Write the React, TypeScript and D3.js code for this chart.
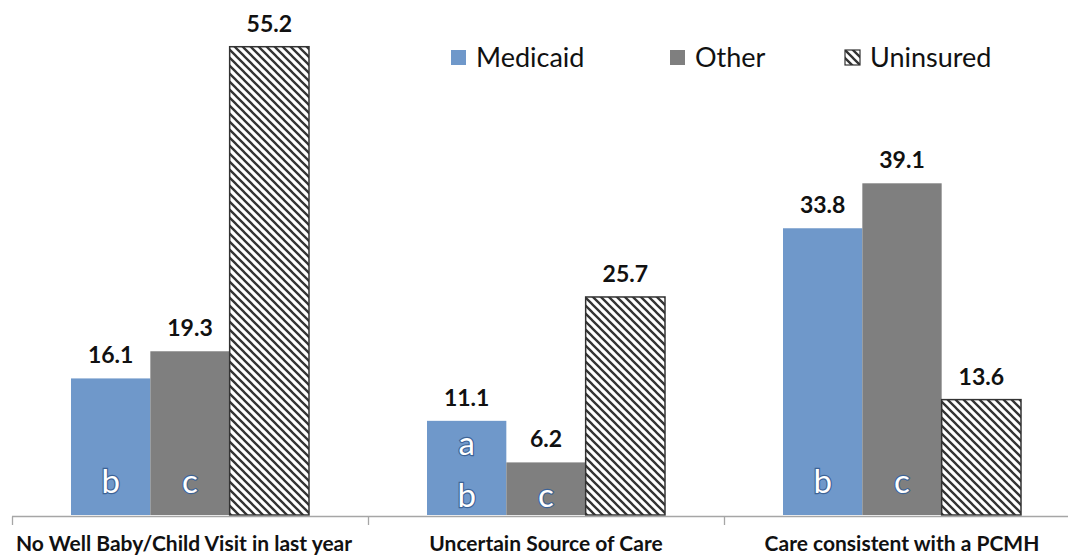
import React, { useEffect } from 'react'
import * as d3 from 'd3'

// chart data
const categories = [
  'No Well Baby/Child Visit in last year',
  'Uncertain Source of Care',
  'Care consistent with a PCMH',
]
const seriesNames = ['Medicaid', 'Other', 'Uninsured']
const medicaid = [16.1, 11.1, 33.8]
const other = [19.3, 6.2, 39.1]
const uninsured = [55.2, 25.7, 13.6]
// significance letters written inside the bars (top to bottom)
const medicaidNotes = [['b'], ['a', 'b'], ['b']]
const otherNotes = [['c'], ['c'], ['c']]
const uninsuredNotes = [[], [], []]

const W = 1068
const H = 557
const colors = { Medicaid: '#6f98ca', Other: '#7f7f7f', Uninsured: 'url(#hatch)' }

const App = () => {
  useEffect(() => {
    document.body.style.margin = '0'
  }, [])

  const values = [medicaid, other, uninsured]
  const notes = [medicaidNotes, otherNotes, uninsuredNotes]

  const x0 = d3.scaleBand().domain(categories).range([12, 1080])
  const groupWidth = 238
  const x1 = d3
    .scaleBand()
    .domain(seriesNames)
    .range([(x0.step() - groupWidth) / 2, (x0.step() + groupWidth) / 2])
  const y = d3.scaleLinear().domain([0, 60]).range([515, 6])
  const base = y(0)
  const noteLift = [22, 8, 22] // how far the letters sit above the axis, per group

  const font = 'Lato, "Open Sans", sans-serif'

  return (
    <svg width={W} height={H} style={{ display: 'block', background: '#fff' }}>
      <defs>
        <pattern id="hatch" width={8} height={8} patternUnits="userSpaceOnUse">
          <rect width={8} height={8} fill="#fff" />
          <path d="M-2,-2 L10,10 M-2,6 L2,10 M6,-2 L10,2" stroke="#333" strokeWidth={2.3} />
        </pattern>
      </defs>

      {/* bars */}
      {categories.map((cat, ci) => (
        <g key={cat} transform={`translate(${x0(cat)},0)`}>
          {seriesNames.map((s, si) => {
            const v = values[si][ci]
            const bx = x1(s)!
            const bw = x1.bandwidth()
            const hatched = s === 'Uninsured'
            return (
              <g key={s}>
                <rect
                  x={bx}
                  y={y(v)}
                  width={bw}
                  height={base - y(v)}
                  fill={colors[s as keyof typeof colors]}
                  stroke={hatched ? '#333' : 'none'}
                  strokeWidth={hatched ? 1.5 : 0}
                />
                <text
                  x={bx + bw / 2}
                  y={y(v) - 15}
                  textAnchor="middle"
                  fontFamily={font}
                  fontWeight="bold"
                  fontSize={23}
                  fill="#111"
                >
                  {v.toFixed(1)}
                </text>
                {notes[si][ci].map((t, li, arr) => (
                  <text
                    key={li}
                    x={bx + bw / 2}
                    y={base - noteLift[ci] - (arr.length - 1 - li) * 52}
                    textAnchor="middle"
                    fontFamily={font}
                    fontSize={33}
                    fill="#fff"
                    stroke="#3d6396"
                    strokeWidth={2.4}
                    paintOrder="stroke"
                  >
                    {t}
                  </text>
                ))}
              </g>
            )
          })}
        </g>
      ))}

      {/* category axis */}
      <line x1={12} x2={W} y1={516.5} y2={516.5} stroke="#a6a6a6" strokeWidth={1.3} />
      {categories.map((cat) => (
        <line
          key={cat}
          x1={x0(cat)! + 0.5}
          x2={x0(cat)! + 0.5}
          y1={516.5}
          y2={525}
          stroke="#a6a6a6"
          strokeWidth={1.3}
        />
      ))}
      {categories.map((cat, i) => (
        <text
          key={cat}
          x={x0(cat)! + x0.bandwidth() / 2 - (i === 0 ? 6 : 0)}
          y={551}
          textAnchor="middle"
          fontFamily={font}
          fontWeight="bold"
          fontSize={21}
          fill="#111"
        >
          {cat}
        </text>
      ))}

      {/* legend */}
      {seriesNames.map((s, i) => {
        const lx = [451, 670, 845][i]
        return (
          <g key={s} transform={`translate(${lx},50)`}>
            <rect
              width={15}
              height={15}
              fill={colors[s as keyof typeof colors]}
              stroke={s === 'Uninsured' ? '#333' : 'none'}
              strokeWidth={1.2}
            />
            <text x={25} y={16.7} fontFamily={font} fontSize={27} fill="#111">
              {s}
            </text>
          </g>
        )
      })}
    </svg>
  )
}

export default App
